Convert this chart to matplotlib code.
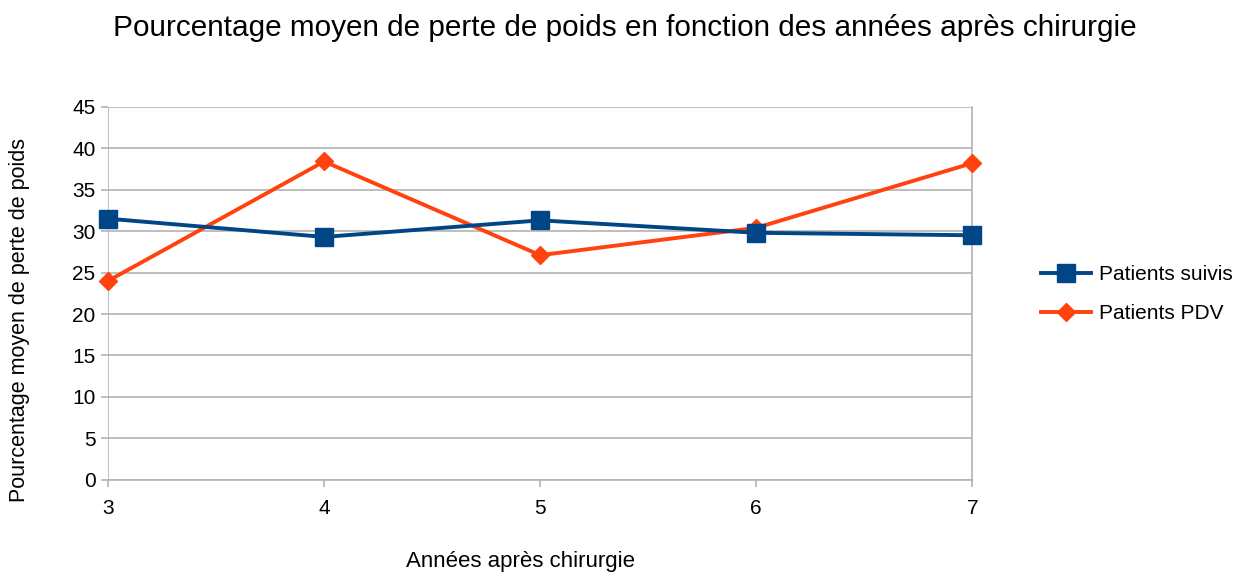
import matplotlib.pyplot as plt
import numpy as np

plt.rcParams['font.family'] = ['Liberation Sans', 'DejaVu Sans']

annees = [3, 4, 5, 6, 7]
patients_suivis = [31.5, 29.3, 31.3, 29.8, 29.5]
patients_pdv = [24.0, 38.4, 27.1, 30.4, 38.2]

fig = plt.figure(figsize=(12.49, 5.74), dpi=100)
ax = fig.add_axes([0.0865, 0.164, 0.692, 0.650])

ax.plot(annees, patients_pdv, color='#ff420e', lw=2.8, marker='D', ms=9,
        label='Patients PDV', zorder=3, clip_on=False)
ax.plot(annees, patients_suivis, color='#004586', lw=2.8, marker='s', ms=13,
        label='Patients suivis', zorder=4, clip_on=False)

ax.set_xlim(3, 7)
ax.set_ylim(0, 45)
ax.set_xticks(annees)
ax.set_yticks(np.arange(0, 46, 5))
ax.grid(axis='y', color='#b3b3b3', lw=1.2)
ax.set_axisbelow(True)
for s in ['top', 'left']:
    ax.spines[s].set_visible(False)
for s in ['right', 'bottom']:
    ax.spines[s].set_color('#b3b3b3')
    ax.spines[s].set_linewidth(1.2)
ax.axvline(3, color='#b3b3b3', lw=1.2, zorder=0)
ax.tick_params(axis='both', colors='#b3b3b3', labelcolor='black', labelsize=15,
               length=5, width=1.2)
ax.tick_params(axis='x', pad=9)
ax.tick_params(axis='y', pad=4)

fig.text(520 / 1249, 1 - 562 / 574, 'Années après chirurgie', fontsize=16,
         ha='center', va='center')
fig.text(20 / 1249, 1 - 320 / 574, 'Pourcentage moyen de perte de poids',
         fontsize=15.5, rotation=90, ha='center', va='center')
fig.text(625 / 1249, 1 - 28 / 574,
         'Pourcentage moyen de perte de poids en fonction des années après chirurgie',
         fontsize=21.4, ha='center', va='center')

h, l = ax.get_legend_handles_labels()
fig.legend(h[::-1], l[::-1], loc='center left',
           bbox_to_anchor=(1022 / 1249, 1 - 294 / 574),
           frameon=False, fontsize=15, handlelength=2.4, labelspacing=0.95,
           handletextpad=0.4)

fig.savefig('out.png', dpi=100)
